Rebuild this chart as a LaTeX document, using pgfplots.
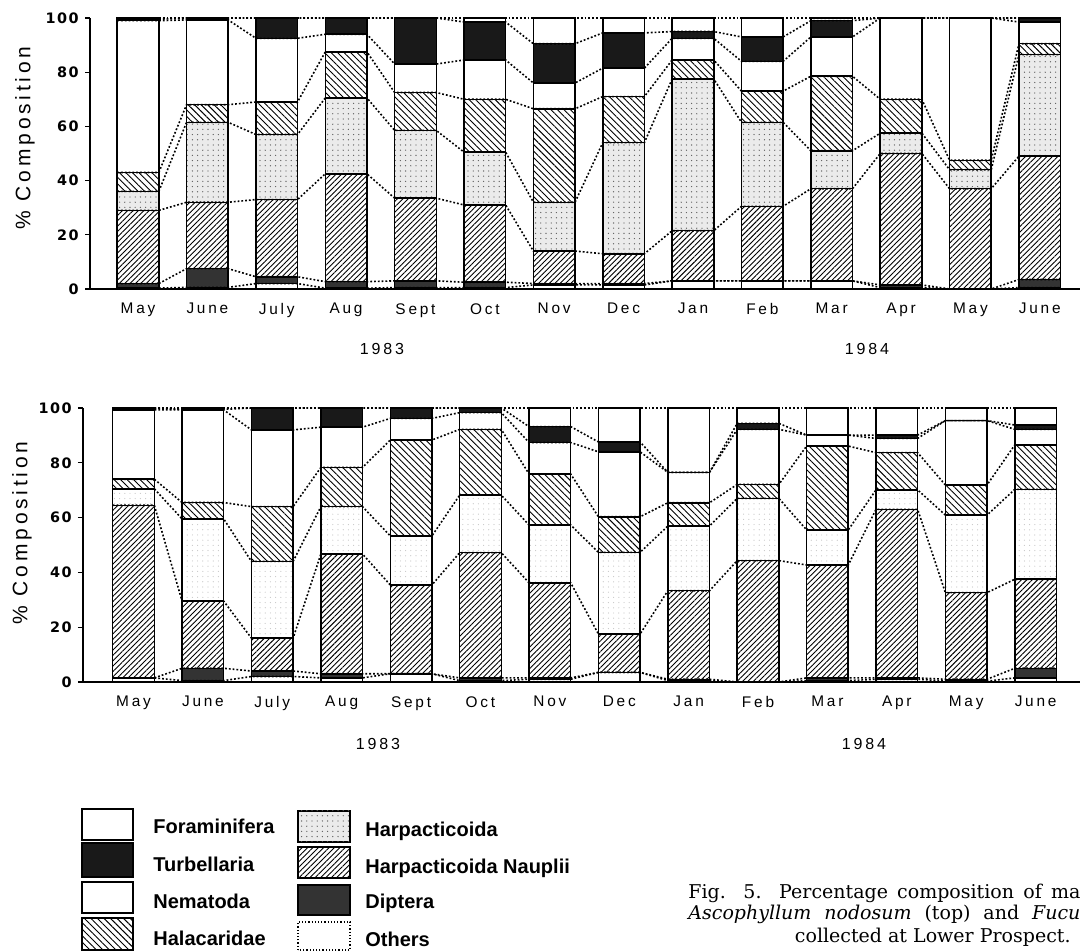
\documentclass[border=0pt]{standalone}
\usepackage{fontspec}
\setmainfont{Liberation Sans}
\newfontfamily\lblfont[LetterSpace=18]{Liberation Sans}
\newfontfamily\numfont[LetterSpace=10]{DejaVu Sans}
\newfontfamily\capfont{DejaVu Serif}
\usepackage{pgfplots}
\usepackage{pgfplotstable}
\pgfplotsset{compat=1.18}
\usetikzlibrary{patterns,patterns.meta}

% cumulative tops of each layer, bottom to top:
% b1 Others, b2 Diptera, b3 Harp. Nauplii, b4 Harpacticoida,
% b5 Halacaridae, b6 Nematoda, b7 Turbellaria (Foraminifera up to 100)
% every month twice: s=-1 left edge, s=1 right edge (for the dotted joins)
\pgfplotstableread{
m  s  b1  b2  b3   b4   b5   b6   b7
0 -1  0.3 2   29   36   43   99   99.5
0  1  0.3 2   29   36   43   99   99.5
1 -1  0.6 7.5 32   61.5 68   99.3 100
1  1  0.6 7.5 32   61.5 68   99.3 100
2 -1  2   4.5 33   57   69   92.5 100
2  1  2   4.5 33   57   69   92.5 100
3 -1  0.3 2.7 42.5 70.5 87.5 94   100
3  1  0.3 2.7 42.5 70.5 87.5 94   100
4 -1  0.5 3   33.5 58.5 72.5 83   100
4  1  0.5 3   33.5 58.5 72.5 83   100
5 -1  0.5 2.5 31   50.5 70   84.5 98.5
5  1  0.5 2.5 31   50.5 70   84.5 98.5
6 -1  1.5 2   14   32   66.5 76   90.5
6  1  1.5 2   14   32   66.5 76   90.5
7 -1  1.5 2   13   54   71   81.5 94.5
7  1  1.5 2   13   54   71   81.5 94.5
8 -1  3   3   21.5 77.5 84.5 92.5 95
8  1  3   3   21.5 77.5 84.5 92.5 95
9 -1  3   3   30.5 61.5 73   84   93
9  1  3   3   30.5 61.5 73   84   93
10 -1 3   3   37   51   78.5 93   99
10  1 3   3   37   51   78.5 93   99
11 -1 0.5 1.5 50   57.5 70   100  100
11  1 0.5 1.5 50   57.5 70   100  100
12 -1 0   0   37   44   47.5 100  100
12  1 0   0   37   44   47.5 100  100
13 -1 0.5 3.5 49   86.5 90.5 98.5 100
13  1 0.5 3.5 49   86.5 90.5 98.5 100
}\asco

\pgfplotstableread{
m  s  b1  b2  b3   b4   b5   b6   b7
0 -1  1.5 1.5 64.5 70.5 74   99.3 100
0  1  1.5 1.5 64.5 70.5 74   99.3 100
1 -1  0.5 5   29.5 59.5 65.5 99.3 99.5
1  1  0.5 5   29.5 59.5 65.5 99.3 99.5
2 -1  2   4   16   44   64   92   100
2  1  2   4   16   44   64   92   100
3 -1  1.5 3   46.7 64   78.3 93   100
3  1  1.5 3   46.7 64   78.3 93   100
4 -1  3   3   35.4 53.3 88.3 96.2 100
4  1  3   3   35.4 53.3 88.3 96.2 100
5 -1  0.5 1.5 47.2 68.2 92.2 98.3 100
5  1  0.5 1.5 47.2 68.2 92.2 98.3 100
6 -1  1   1.5 36.2 57.3 75.9 87.4 93.2
6  1  1   1.5 36.2 57.3 75.9 87.4 93.2
7 -1  3.5 3.5 17.5 47.3 60.3 84   87.6
7  1  3.5 3.5 17.5 47.3 60.3 84   87.6
8 -1  0.5 1   33.3 56.9 65.4 76.5 76.5
8  1  0.5 1   33.3 56.9 65.4 76.5 76.5
9 -1  0   0   44.3 67   72.1 92.2 94.4
9  1  0   0   44.3 67   72.1 92.2 94.4
10 -1 0.5 1.5 42.7 55.5 86.1 90.1 90.1
10  1 0.5 1.5 42.7 55.5 86.1 90.1 90.1
11 -1 1   1.5 63   70.1 83.7 88.9 90.1
11  1 1   1.5 63   70.1 83.7 88.9 90.1
12 -1 0.3 1   32.6 60.9 71.9 95.4 95.4
12  1 0.3 1   32.6 60.9 71.9 95.4 95.4
13 -1 1.5 5   37.5 70.3 86.5 92.2 93.8
13  1 1.5 5   37.5 70.3 86.5 92.2 93.8
}\fucus

\tikzset{
  foram/.style={fill=white},
  turb/.style={fill=black!90},
  nema/.style={fill=white},
  hala/.style={fill=white, postaction={pattern={Lines[angle=-45,distance=2.3pt,line width=0.45pt]}, pattern color=black}},
  harp/.style={fill=black!8, postaction={pattern={Dots[distance=2.6pt,radius=0.33pt]}, pattern color=black!65}},
  harpb/.style={fill=white, postaction={pattern={Dots[distance=2.6pt,radius=0.3pt]}, pattern color=black!22}},
  naup/.style={fill=white, postaction={pattern={Lines[angle=45,distance=1.9pt,line width=0.45pt]}, pattern color=black}},
  dipt/.style={fill=black!80},
  othr/.style={fill=white},
}

\pgfplotsset{
  seg/.style={ybar, bar width=0.6, bar shift=0pt, draw=black, line width=0.75pt, #1},
  conn/.style={no marks, line width=0.8pt, dash pattern=on 0.9pt off 1pt},
  compo/.style={
    scale only axis, anchor=south west, clip=false,
    ymin=0, ymax=100,
    axis lines=left, axis line style={-, line width=0.8pt},
    xtick={0,...,13},
    xticklabels={May,June,July,Aug,Sept,Oct,Nov,Dec,Jan,Feb,Mar,Apr,May,June},
    ytick={0,20,...,100}, yticklabels={0,20,40,60,80,100},
    tick align=outside, major tick length=2.5pt,
    x tick style={draw=none}, y tick style={line width=0.6pt, black},
    x tick label style={font=\lblfont\fontsize{7.7}{9}\selectfont, inner sep=0pt, anchor=north, yshift=-4.5pt},
    y tick label style={font=\numfont\bfseries\fontsize{7.2}{8.5}\selectfont, inner sep=0pt, anchor=east, xshift=-3pt},
  },
}

% draws one stacked chart from a table, harpacticoida style as #2
\newcommand{\stackbars}[2]{%
  \addplot[seg=foram] table[x=m, y expr=100] {#1};
  \addplot[seg=turb] table[x=m, y=b7] {#1};
  \addplot[seg=nema] table[x=m, y=b6] {#1};
  \addplot[seg=hala] table[x=m, y=b5] {#1};
  \addplot[seg=#2] table[x=m, y=b4] {#1};
  \addplot[seg=naup] table[x=m, y=b3] {#1};
  \addplot[seg=dipt] table[x=m, y=b2] {#1};
  \addplot[seg=othr] table[x=m, y=b1] {#1};
  \addplot[conn] table[x expr=\thisrow{m}+0.3*\thisrow{s}, y expr=100] {#1};
  \addplot[conn] table[x expr=\thisrow{m}+0.3*\thisrow{s}, y=b7] {#1};
  \addplot[conn] table[x expr=\thisrow{m}+0.3*\thisrow{s}, y=b6] {#1};
  \addplot[conn] table[x expr=\thisrow{m}+0.3*\thisrow{s}, y=b5] {#1};
  \addplot[conn] table[x expr=\thisrow{m}+0.3*\thisrow{s}, y=b4] {#1};
  \addplot[conn] table[x expr=\thisrow{m}+0.3*\thisrow{s}, y=b3] {#1};
  \addplot[conn] table[x expr=\thisrow{m}+0.3*\thisrow{s}, y=b2] {#1};
  \addplot[conn] table[x expr=\thisrow{m}+0.3*\thisrow{s}, y=b1] {#1};
}

\begin{document}
\begin{tikzpicture}

% Ascophyllum nodosum (top)
\begin{axis}[compo, at={(45pt,331pt)}, width=495pt, height=135.5pt,
  xmin=-0.692, xmax=13.58]
\stackbars{\asco}{harp}
\end{axis}

% Fucus (bottom)
\begin{axis}[compo, at={(41.5pt,134.5pt)}, width=498.5pt, height=137pt,
  xmin=-0.728, xmax=13.64]
\stackbars{\fucus}{harpb}
\end{axis}

\begin{scope}[x=0.5pt, y=0.5pt]
  % axis titles and years
  \node[rotate=90, font=\lblfont\fontsize{10.5}{12}\selectfont] at (25,813) {\% Composition};
  \node[rotate=90, font=\lblfont\fontsize{10.5}{12}\selectfont] at (22,418) {\% Composition};
  \node[font=\lblfont\fontsize{8}{10}\selectfont] at (382,602) {1983};
  \node[font=\lblfont\fontsize{8}{10}\selectfont] at (867,602) {1984};
  \node[font=\lblfont\fontsize{8}{10}\selectfont] at (378,207) {1983};
  \node[font=\lblfont\fontsize{8}{10}\selectfont] at (864,207) {1984};

  % legend
  \begin{scope}[line width=0.6pt]
    \draw[foram] (82,111) rectangle (133,142);
    \draw[turb]  (82,74)  rectangle (133,108);
    \draw[nema]  (82,38)  rectangle (133,69);
    \draw[hala]  (82,1)   rectangle (133,33);
    \draw[harp]  (298,109) rectangle (350,140);
    \draw[naup]  (298,73)  rectangle (350,104);
    \draw[dipt, line width=1pt] (298,36) rectangle (350,66);
    \draw[othr, densely dotted] (298,1) rectangle (350,29);
  \end{scope}
  \begin{scope}[every node/.style={anchor=base west, inner sep=0pt, font=\bfseries\fontsize{10}{12}\selectfont}]
    \node at (153,117) {Foraminifera};
    \node at (153,79)  {Turbellaria};
    \node at (153,42)  {Nematoda};
    \node at (153,5)   {Halacaridae};
    \node at (365,114) {Harpacticoida};
    \node at (365,77)  {Harpacticoida Nauplii};
    \node at (365,42)  {Diptera};
    \node at (365,4)   {Others};
  \end{scope}

  % caption, first two lines justified out to the cut edge
  \begin{scope}[every node/.style={inner sep=0pt, font=\capfont\fontsize{9.5}{11}\selectfont}]
    \node[anchor=base west] at (688,52) {\makebox[196pt][s]{Fig. 5. Percentage composition of ma}};
    \node[anchor=base west] at (688,31) {\makebox[196pt][s]{\itshape Ascophyllum nodosum\upshape{} (top) and \itshape Fucu}};
    \node[anchor=base east] at (1071,8) {collected at Lower Prospect.};
  \end{scope}
\end{scope}

\pgfresetboundingbox
\path[use as bounding box] (0,0) rectangle (540pt,475.5pt);
\end{tikzpicture}
\end{document}
